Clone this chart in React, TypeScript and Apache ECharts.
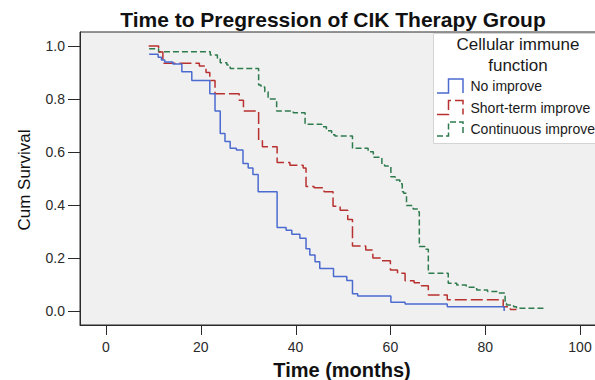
import React, { useEffect, useRef } from 'react';
import * as echarts from 'echarts';

// Kaplan-Meier step data (time in months, cumulative survival)
const noImproveTime = [9.1, 11.0, 11.7, 12.4, 14.1, 16.0, 18.1, 21.9, 23.0, 24.1, 25.1, 26.2, 27.5, 28.9, 30.0, 31.0, 32.1, 36.1, 38.0, 39.2, 40.9, 42.2, 43.0, 44.1, 45.1, 48.0, 50.8, 52.0, 53.1, 60.1, 63.1, 72.0, 84.0];
const noImproveSurv = [0.969, 0.958, 0.947, 0.94, 0.932, 0.903, 0.87, 0.82, 0.755, 0.67, 0.64, 0.614, 0.608, 0.557, 0.54, 0.515, 0.45, 0.315, 0.305, 0.29, 0.275, 0.235, 0.211, 0.186, 0.16, 0.13, 0.115, 0.065, 0.057, 0.033, 0.026, 0.016, 0.0];

const shortTermTime = [9.0, 11.1, 12.0, 19.7, 21.1, 21.9, 23.0, 28.1, 29.0, 32.2, 33.0, 36.1, 38.8, 41.6, 42.2, 43.9, 46.0, 47.9, 49.4, 51.0, 52.0, 54.8, 56.3, 58.0, 60.0, 61.5, 63.1, 65.0, 66.5, 68.0, 72.0, 83.8, 85.3, 86.6];
const shortTermSurv = [1.0, 0.977, 0.935, 0.925, 0.9, 0.87, 0.82, 0.795, 0.755, 0.645, 0.62, 0.56, 0.55, 0.54, 0.47, 0.465, 0.45, 0.395, 0.38, 0.345, 0.245, 0.23, 0.2, 0.19, 0.155, 0.142, 0.114, 0.107, 0.095, 0.06, 0.042, 0.016, 0.006, 0.006];

const continuousTime = [9.1, 11.1, 22.0, 23.5, 24.1, 25.5, 26.2, 32.2, 32.7, 33.5, 34.2, 36.0, 39.5, 42.0, 42.5, 45.5, 46.5, 47.6, 48.3, 52.0, 55.3, 56.4, 58.2, 58.8, 60.1, 61.0, 62.0, 62.5, 62.8, 63.4, 64.8, 65.8, 66.1, 67.3, 68.0, 72.2, 74.0, 76.0, 78.2, 80.5, 82.5, 84.2, 84.5, 86.0, 86.6, 92.3];
const continuousSurv = [0.99, 0.978, 0.966, 0.954, 0.937, 0.928, 0.915, 0.853, 0.845, 0.827, 0.8, 0.755, 0.748, 0.708, 0.705, 0.695, 0.68, 0.665, 0.66, 0.614, 0.601, 0.58, 0.551, 0.547, 0.507, 0.494, 0.48, 0.45, 0.444, 0.398, 0.385, 0.375, 0.243, 0.233, 0.142, 0.105, 0.098, 0.09, 0.079, 0.074, 0.068, 0.029, 0.023, 0.016, 0.01, 0.01];

const xTicks = [0, 20, 40, 60, 80, 100];
const yTicks = [0, 0.2, 0.4, 0.6, 0.8, 1.0];

const seriesNames = ['No improve', 'Short-term improve', 'Continuous improve'];
const legendTitle = ['Cellular immune', 'function'];
const chartTitle = 'Time to Pregression of CIK Therapy Group';
const xTitle = 'Time (months)';
const yTitle = 'Cum Survival';

const COLORS = ['#4b6bd0', '#b8302f', '#2e7b4e'];
const DASHES: any[] = ['solid', [12, 4], [6, 3]];
const FONT = '"Liberation Sans", Arial, Helvetica, sans-serif';
const AXIS_COLOR = '#2a2a2a';

const X_MIN = -5.485;
const X_MAX = (610 - 106) / 4.74;
const Y_MIN = (311 - 325) / 265;
const Y_MAX = (311 - 32) / 265;

export default function App() {
  const ref = useRef<HTMLDivElement>(null);

  useEffect(() => {
    if (!ref.current) return;
    const chart = echarts.init(ref.current, null, { renderer: 'svg' });
    const zip = (t: number[], s: number[]) => t.map((v, i) => [v, s[i]]);
    const datasets = [
      zip(noImproveTime, noImproveSurv),
      zip(shortTermTime, shortTermSurv),
      zip(continuousTime, continuousSurv),
    ];

    const legendItemsY = [86, 107.5, 129];
    const legendGraphics: any[] = [];
    legendGraphics.push({
      type: 'rect',
      shape: { x: 433.5, y: 33.5, width: 200, height: 110 },
      style: { fill: '#ffffff', stroke: '#d4d4d4', lineWidth: 1 },
      z: 100,
    });
    legendGraphics.push({
      type: 'text', x: 518, y: 44, z: 101,
      style: { text: legendTitle[0], font: `17px ${FONT}`, fill: '#1a1a1a', textAlign: 'center', textVerticalAlign: 'middle' },
    });
    legendGraphics.push({
      type: 'text', x: 518, y: 65, z: 101,
      style: { text: legendTitle[1], font: `17px ${FONT}`, fill: '#1a1a1a', textAlign: 'center', textVerticalAlign: 'middle' },
    });
    seriesNames.forEach((name, i) => {
      const cy = legendItemsY[i];
      legendGraphics.push({
        type: 'polyline', z: 101,
        shape: { points: [[437, cy + 7], [448.5, cy + 7], [448.5, cy - 7], [463, cy - 7], [463, cy + 7]] },
        style: { stroke: COLORS[i], lineWidth: 1.5, fill: null, lineDash: DASHES[i] === 'solid' ? null : DASHES[i] },
      });
      legendGraphics.push({
        type: 'text', x: 470.5, y: cy, z: 101,
        style: { text: name, font: `14px ${FONT}`, fill: '#1a1a1a', textAlign: 'left', textVerticalAlign: 'middle' },
      });
    });

    const textGraphics: any[] = [
      {
        type: 'text', x: 333, y: 19,
        style: { text: chartTitle, font: `bold 21px ${FONT}`, fill: '#111', textAlign: 'center', textVerticalAlign: 'middle' },
      },
      {
        type: 'text', x: 342, y: 370,
        style: { text: xTitle, font: `bold 20px ${FONT}`, fill: '#111', textAlign: 'center', textVerticalAlign: 'middle' },
      },
      {
        type: 'text', x: 24, y: 180, rotation: Math.PI / 2,
        style: { text: yTitle, font: `17px ${FONT}`, fill: '#111', textAlign: 'center', textVerticalAlign: 'middle' },
      },
    ];

    chart.setOption({
      animation: false,
      backgroundColor: '#ffffff',
      grid: {
        left: 80, top: 32, right: 10, bottom: 55,
        show: true, backgroundColor: '#f0f0f0', borderColor: AXIS_COLOR, borderWidth: 1,
        containLabel: false,
      },
      xAxis: {
        type: 'value',
        min: X_MIN,
        max: X_MAX,
        axisLine: { show: true, onZero: false, lineStyle: { color: AXIS_COLOR, width: 1 } },
        splitLine: { show: false },
        axisTick: { show: false },
        axisLabel: { customValues: xTicks, fontSize: 14, fontFamily: FONT, color: '#2a2a2a', margin: 15 },
      },
      yAxis: {
        type: 'value',
        min: Y_MIN,
        max: Y_MAX,
        axisLine: { show: true, onZero: false, lineStyle: { color: AXIS_COLOR, width: 1 } },
        splitLine: { show: false },
        axisTick: { show: false },
        axisLabel: {
          customValues: yTicks, fontSize: 14, fontFamily: FONT, color: '#2a2a2a', margin: 15,
          formatter: (v: number) => v.toFixed(1),
        },
      },
      series: datasets.map((d, i) => ({
        name: seriesNames[i],
        type: 'line',
        step: 'end',
        data: d,
        symbol: 'none',
        showSymbol: false,
        lineStyle: { color: COLORS[i], width: 1.5, type: DASHES[i] },
        z: 3 - i,
      })),
      graphic: [...textGraphics, ...legendGraphics],
    });

    // tick marks placed through the chart's own scales
    const tickGraphics: any[] = [];
    yTicks.forEach((v) => {
      const p = chart.convertToPixel({ gridIndex: 0 }, [X_MIN, v]) as number[];
      const y = Math.round(p[1]) + 0.5;
      tickGraphics.push({
        type: 'line', z: 50,
        shape: { x1: p[0] - 12, y1: y, x2: p[0], y2: y },
        style: { stroke: AXIS_COLOR, lineWidth: 1 },
      });
    });
    xTicks.forEach((v) => {
      const p = chart.convertToPixel({ gridIndex: 0 }, [v, Y_MIN]) as number[];
      const x = Math.round(p[0]) + 0.5;
      tickGraphics.push({
        type: 'line', z: 50,
        shape: { x1: x, y1: p[1], x2: x, y2: p[1] + 10 },
        style: { stroke: AXIS_COLOR, lineWidth: 1 },
      });
    });
    chart.setOption({ graphic: [...textGraphics, ...legendGraphics, ...tickGraphics] });

    return () => chart.dispose();
  }, []);

  return (
    <div
      ref={ref}
      style={{ position: 'fixed', left: 0, top: 0, width: 620, height: 380, background: '#ffffff' }}
    />
  );
}
